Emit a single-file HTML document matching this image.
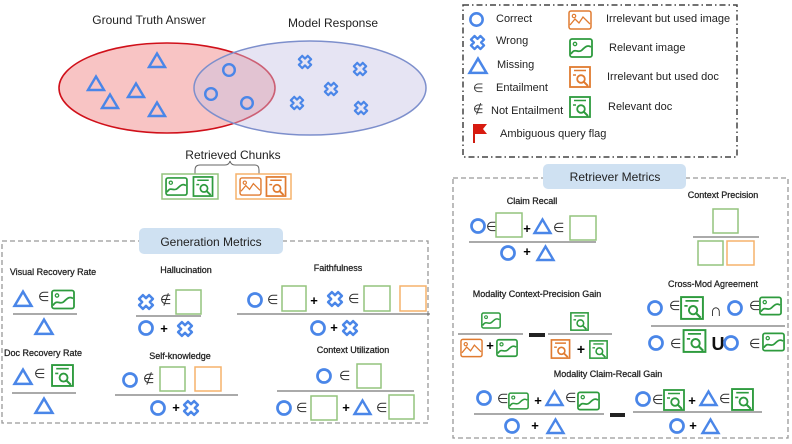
<!DOCTYPE html>
<html><head><meta charset="utf-8"><style>
html,body{margin:0;padding:0;background:#fff;}
svg{display:block;font-family:"Liberation Sans",sans-serif;}
.t9{font-size:9px;fill:#222;text-anchor:middle;stroke:#222;stroke-width:0.25;}
.lg{font-size:11px;fill:#222;}
.e{font-size:13px;fill:#333;}
rect[stroke="#93c47d"],rect[stroke="#f6b26b"]{stroke-width:1.5;}
</style></head><body>
<svg width="792" height="444" viewBox="0 0 792 444" xmlns="http://www.w3.org/2000/svg">
<defs>
<symbol id="c" viewBox="0 0 16 16"><circle cx="8" cy="8" r="5.8" fill="none" stroke="#4a86e8" stroke-width="2.4"/></symbol>
<symbol id="t" viewBox="0 0 20 18"><polygon points="10,2.5 18,16 2,16" fill="none" stroke="#4a86e8" stroke-width="2.4"/></symbol>
<symbol id="x" viewBox="0 0 16 16"><polygon transform="translate(8,8) rotate(45)" points="-2.4,-6.3 2.4,-6.3 2.4,-2.4 6.3,-2.4 6.3,2.4 2.4,2.4 2.4,6.3 -2.4,6.3 -2.4,2.4 -6.3,2.4 -6.3,-2.4 -2.4,-2.4" fill="none" stroke="#4a86e8" stroke-width="2.2" stroke-linejoin="round"/></symbol>
<symbol id="ig" viewBox="0 0 24 20"><rect x="1" y="1" width="22" height="18" rx="2" fill="none" stroke="#2e9b3e" stroke-width="1.8"/><circle cx="6" cy="6" r="1.7" fill="none" stroke="#2e9b3e" stroke-width="1.3"/><path d="M2,16 C6,9 9,16 13,12 S19,7 22,9" fill="none" stroke="#2e9b3e" stroke-width="1.8"/></symbol>
<symbol id="io" viewBox="0 0 24 20"><rect x="1" y="1" width="22" height="18" rx="2" fill="none" stroke="#e07b30" stroke-width="1.5"/><circle cx="6" cy="6" r="1.7" fill="none" stroke="#e07b30" stroke-width="1.2"/><path d="M2,15 L7,9 L11,13 L15,7 L22,14" fill="none" stroke="#e07b30" stroke-width="1.3"/></symbol>
<symbol id="dg" viewBox="0 0 22 22"><rect x="1" y="1" width="20" height="20" fill="none" stroke="#2e9b3e" stroke-width="1.8"/><path d="M5,4.5 H17 M4,9 H7" stroke="#2e9b3e" stroke-width="1.6"/><circle cx="12" cy="13" r="3.8" fill="none" stroke="#2e9b3e" stroke-width="1.8"/><path d="M14.7,15.7 L19,20" stroke="#2e9b3e" stroke-width="2"/></symbol>
<symbol id="do" viewBox="0 0 22 22"><rect x="1" y="1" width="20" height="20" fill="none" stroke="#e07b30" stroke-width="1.8"/><path d="M5,4.5 H17 M4,9 H7" stroke="#e07b30" stroke-width="1.6"/><circle cx="12" cy="13" r="3.8" fill="none" stroke="#e07b30" stroke-width="1.8"/><path d="M14.7,15.7 L19,20" stroke="#e07b30" stroke-width="2"/></symbol>
</defs>

<!-- Venn -->
<text x="149" y="24" text-anchor="middle" style="font-size:12px;fill:#222">Ground Truth Answer</text>
<text x="333" y="27" text-anchor="middle" style="font-size:12px;fill:#222">Model Response</text>
<ellipse cx="167" cy="88" rx="108" ry="45" fill="#f8c4c4" stroke="#d0101a" stroke-width="1.6"/>
<ellipse cx="310" cy="88" rx="116" ry="47" fill="#c8c4e4" fill-opacity="0.45" stroke="#7d8fcc" stroke-width="1.5"/>
<use href="#t" x="86" y="74" width="20" height="18"/>
<use href="#t" x="147" y="51" width="20" height="18"/>
<use href="#t" x="100" y="92" width="20" height="18"/>
<use href="#t" x="126" y="81" width="20" height="18"/>
<use href="#t" x="147" y="100" width="20" height="18"/>
<use href="#c" x="221" y="62" width="16" height="16"/>
<use href="#c" x="203" y="86" width="16" height="16"/>
<use href="#c" x="239" y="95" width="16" height="16"/>
<use href="#x" x="297" y="54" width="16" height="16"/>
<use href="#x" x="352" y="61" width="16" height="16"/>
<use href="#x" x="323" y="81" width="16" height="16"/>
<use href="#x" x="289" y="95" width="16" height="16"/>
<use href="#x" x="353" y="100" width="16" height="16"/>
<text x="233" y="159" text-anchor="middle" style="font-size:12px;fill:#222">Retrieved Chunks</text>
<path d="M195,174 V170 Q195,165 200,165 H225 Q229,165 230,161 Q231,165 235,165 H255 Q259,165 259,170 V174" fill="none" stroke="#666" stroke-width="1"/>
<rect x="162" y="174" width="56" height="25" fill="none" stroke="#93c47d" stroke-width="1.2"/>
<rect x="236" y="174" width="55" height="25" fill="none" stroke="#f6b26b" stroke-width="1.2"/>
<use href="#ig" x="165" y="177" width="23" height="19"/>
<use href="#dg" x="192" y="176" width="22" height="21"/>
<use href="#io" x="239" y="177" width="23" height="19"/>
<use href="#do" x="265" y="176" width="22" height="21"/>

<!-- Legend -->
<rect x="463" y="5" width="274" height="152" fill="none" stroke="#444" stroke-width="1.5" stroke-dasharray="6,3,1.5,3"/>
<use href="#c" x="468" y="11" width="17" height="17"/><text class="lg" x="496" y="22">Correct</text>
<use href="#x" x="469" y="34" width="17" height="17"/><text class="lg" x="496" y="44">Wrong</text>
<use href="#t" x="467" y="56" width="22" height="19"/><text class="lg" x="497" y="68">Missing</text>
<text x="473" y="92" style="font-size:12px;fill:#333">∈</text><text class="lg" x="496" y="91">Entailment</text>
<text x="473" y="113" style="font-size:12px;fill:#333">∉</text><text class="lg" x="491" y="114">Not Entailment</text>
<path d="M474,124 V143" stroke="#d01c10" stroke-width="2"/><path d="M474,124 H487 L483,129 L487,134 H474 Z" fill="#d81b10"/>
<text class="lg" x="500" y="137">Ambiguous query flag</text>
<use href="#io" x="568" y="10" width="24" height="20"/><text class="lg" x="606" y="22">Irrelevant but used image</text>
<use href="#ig" x="569" y="38" width="24" height="20"/><text class="lg" x="609" y="51">Relevant image</text>
<use href="#do" x="569" y="66" width="22" height="22"/><text class="lg" x="607" y="80">Irrelevant but used doc</text>
<use href="#dg" x="569" y="96" width="22" height="22"/><text class="lg" x="608" y="110">Relevant doc</text>

<!-- Generation box -->
<rect x="2" y="241" width="426" height="182" fill="none" stroke="#999" stroke-width="1.3" stroke-dasharray="5,3"/>
<rect x="139" y="228" width="144" height="26" rx="5" fill="#cfe1f2"/>
<text x="211" y="246" text-anchor="middle" style="font-size:12px;fill:#222">Generation Metrics</text>

<text class="t9" x="53" y="275">Visual Recovery Rate</text>
<use href="#t" x="12" y="289" width="22" height="19"/><text class="e" x="38" y="301">∈</text>
<use href="#ig" x="51" y="289" width="24" height="21"/>
<line x1="13" y1="314" x2="77" y2="314" stroke="#555"/>
<use href="#t" x="33" y="317" width="22" height="19"/>

<text class="t9" x="43" y="356">Doc Recovery Rate</text>
<use href="#t" x="12" y="367" width="22" height="19"/><text class="e" x="34" y="378">∈</text>
<use href="#dg" x="51" y="364" width="23" height="23"/>
<line x1="12" y1="393" x2="76" y2="393" stroke="#555"/>
<use href="#t" x="33" y="396" width="22" height="19"/>

<text class="t9" x="186" y="273">Hallucination</text>
<use href="#x" x="137" y="293" width="18" height="18"/><text class="e" x="160" y="304">∉</text>
<rect x="176" y="290" width="25" height="24" fill="none" stroke="#93c47d" stroke-width="1.2"/>
<line x1="136" y1="316" x2="201" y2="316" stroke="#555"/>
<use href="#c" x="137" y="319" width="18" height="18"/><text x="164" y="333" text-anchor="middle" style="font-size:13px;font-weight:bold">+</text>
<use href="#x" x="176" y="320" width="18" height="18"/>

<text class="t9" x="338" y="271">Faithfulness</text>
<use href="#c" x="246" y="291" width="18" height="18"/><text class="e" x="267" y="304">∈</text>
<rect x="282" y="286" width="24" height="25" fill="none" stroke="#93c47d" stroke-width="1.2"/>
<text x="314" y="305" text-anchor="middle" style="font-size:13px;font-weight:bold">+</text>
<use href="#x" x="326" y="290" width="18" height="18"/><text class="e" x="348" y="303">∈</text>
<rect x="364" y="286" width="26" height="25" fill="none" stroke="#93c47d" stroke-width="1.2"/>
<rect x="400" y="286" width="26" height="25" fill="none" stroke="#f6b26b" stroke-width="1.2"/>
<line x1="237" y1="314" x2="430" y2="314" stroke="#555"/>
<use href="#c" x="309" y="319" width="18" height="18"/><text x="334" y="332" text-anchor="middle" style="font-size:13px;font-weight:bold">+</text>
<use href="#x" x="341" y="319" width="18" height="18"/>

<text class="t9" x="180" y="359">Self-knowledge</text>
<use href="#c" x="121" y="371" width="18" height="18"/><text class="e" x="143" y="383">∉</text>
<rect x="160" y="367" width="25" height="24" fill="none" stroke="#93c47d" stroke-width="1.2"/>
<rect x="195" y="367" width="26" height="24" fill="none" stroke="#f6b26b" stroke-width="1.2"/>
<line x1="115" y1="395" x2="238" y2="395" stroke="#555"/>
<use href="#c" x="149" y="399" width="18" height="18"/><text x="176" y="412" text-anchor="middle" style="font-size:13px;font-weight:bold">+</text>
<use href="#x" x="182" y="399" width="18" height="18"/>

<text class="t9" x="353" y="353">Context Utilization</text>
<use href="#c" x="315" y="367" width="18" height="18"/><text class="e" x="339" y="380">∈</text>
<rect x="357" y="364" width="24" height="24" fill="none" stroke="#93c47d" stroke-width="1.2"/>
<line x1="277" y1="391" x2="414" y2="391" stroke="#555"/>
<use href="#c" x="275" y="399" width="18" height="18"/><text class="e" x="296" y="412">∈</text>
<rect x="311" y="396" width="26" height="24" fill="none" stroke="#93c47d" stroke-width="1.2"/>
<text x="346" y="412" text-anchor="middle" style="font-size:13px;font-weight:bold">+</text>
<use href="#t" x="352" y="398" width="21" height="18"/><text class="e" x="376" y="412">∈</text>
<rect x="389" y="395" width="25" height="24" fill="none" stroke="#93c47d" stroke-width="1.2"/>

<!-- Retriever box -->
<rect x="453" y="178" width="335" height="260" fill="none" stroke="#999" stroke-width="1.3" stroke-dasharray="5,3"/>
<rect x="543" y="164" width="143" height="25" rx="5" fill="#cfe1f2"/>
<text x="615" y="181" text-anchor="middle" style="font-size:12px;fill:#222">Retriever Metrics</text>

<text class="t9" x="532" y="204">Claim Recall</text>
<use href="#c" x="469" y="217" width="18" height="18"/><text class="e" x="486" y="231">∈</text>
<rect x="496" y="213" width="26" height="24" fill="none" stroke="#93c47d" stroke-width="1.2"/>
<text x="527" y="233" text-anchor="middle" style="font-size:13px;font-weight:bold">+</text>
<use href="#t" x="532" y="217" width="21" height="18"/><text class="e" x="553" y="232">∈</text>
<rect x="570" y="216" width="26" height="24" fill="none" stroke="#93c47d" stroke-width="1.2"/>
<line x1="469" y1="242" x2="596" y2="242" stroke="#555"/>
<use href="#c" x="499" y="244" width="18" height="18"/><text x="527" y="256" text-anchor="middle" style="font-size:13px;font-weight:bold">+</text>
<use href="#t" x="535" y="244" width="21" height="18"/>

<text class="t9" x="723" y="198">Context Precision</text>
<rect x="713" y="209" width="25" height="24" fill="none" stroke="#93c47d" stroke-width="1.2"/>
<line x1="693" y1="237" x2="759" y2="237" stroke="#555"/>
<rect x="698" y="241" width="25" height="24" fill="none" stroke="#93c47d" stroke-width="1.2"/>
<rect x="727" y="241" width="27" height="24" fill="none" stroke="#f6b26b" stroke-width="1.2"/>

<text class="t9" x="537" y="297">Modality Context-Precision Gain</text>
<use href="#ig" x="481" y="311" width="20" height="19"/>
<line x1="458" y1="334" x2="523" y2="334" stroke="#555"/>
<use href="#io" x="460" y="338" width="23" height="20"/>
<text x="490" y="350" text-anchor="middle" style="font-size:13px;font-weight:bold">+</text>
<use href="#ig" x="496" y="338" width="22" height="20"/>
<rect x="529" y="333" width="16" height="4" fill="#222"/>
<use href="#dg" x="570" y="312" width="19" height="19"/>
<line x1="548" y1="334" x2="612" y2="334" stroke="#555"/>
<use href="#do" x="550" y="339" width="21" height="20"/>
<text x="581" y="354" text-anchor="middle" style="font-size:14px;font-weight:bold">+</text>
<use href="#dg" x="589" y="340" width="19" height="19"/>

<text class="t9" x="713" y="287">Cross-Mod Agreement</text>
<use href="#c" x="646" y="299" width="18" height="18"/><text class="e" x="669" y="310">∈</text>
<use href="#dg" x="680" y="296" width="24" height="24"/>
<text x="716" y="316" text-anchor="middle" style="font-size:17px;fill:#222">∩</text>
<use href="#c" x="726" y="299" width="18" height="18"/><text class="e" x="749" y="310">∈</text>
<use href="#ig" x="759" y="296" width="23" height="20"/>
<line x1="651" y1="326" x2="785" y2="326" stroke="#555"/>
<use href="#c" x="647" y="334" width="18" height="18"/><text class="e" x="670" y="348">∈</text>
<use href="#dg" x="682" y="329" width="25" height="24"/>
<text x="718" y="350" text-anchor="middle" style="font-size:18px;font-weight:bold;fill:#111">U</text>
<use href="#c" x="722" y="334" width="18" height="18"/><text class="e" x="749" y="348">∈</text>
<use href="#ig" x="762" y="332" width="23" height="20"/>

<text class="t9" x="608" y="377">Modality Claim-Recall Gain</text>
<use href="#c" x="475" y="389" width="18" height="18"/><text class="e" x="497" y="403">∈</text>
<use href="#ig" x="508" y="391" width="21" height="20"/>
<text x="538" y="405" text-anchor="middle" style="font-size:13px;font-weight:bold">+</text>
<use href="#t" x="544" y="389" width="21" height="18"/><text class="e" x="565" y="402">∈</text>
<use href="#ig" x="577" y="390" width="23" height="22"/>
<line x1="474" y1="414" x2="604" y2="414" stroke="#555"/>
<use href="#c" x="503" y="417" width="18" height="18"/><text x="535" y="430" text-anchor="middle" style="font-size:13px;font-weight:bold">+</text>
<use href="#t" x="545" y="417" width="21" height="18"/>
<rect x="610" y="413" width="15" height="4" fill="#222"/>
<use href="#c" x="634" y="390" width="18" height="18"/><text class="e" x="652" y="404">∈</text>
<use href="#dg" x="663" y="389" width="22" height="22"/>
<text x="692" y="405" text-anchor="middle" style="font-size:13px;font-weight:bold">+</text>
<use href="#t" x="698" y="389" width="21" height="18"/><text class="e" x="719" y="403">∈</text>
<use href="#dg" x="731" y="388" width="23" height="23"/>
<line x1="633" y1="412" x2="762" y2="412" stroke="#555"/>
<use href="#c" x="668" y="417" width="18" height="18"/><text x="693" y="430" text-anchor="middle" style="font-size:13px;font-weight:bold">+</text>
<use href="#t" x="700" y="417" width="21" height="18"/>
</svg>
</body></html>
